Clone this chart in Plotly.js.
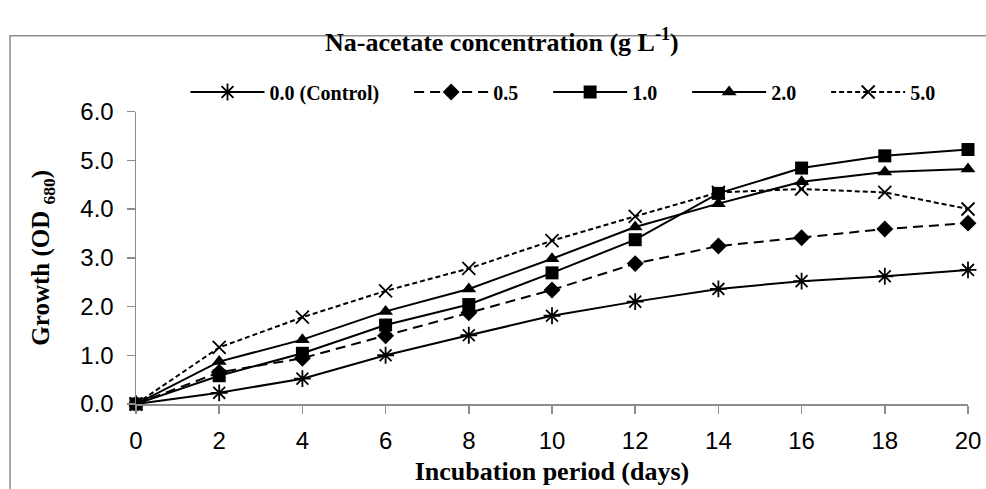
<!DOCTYPE html>
<html>
<head>
<meta charset="utf-8">
<script src="https://cdn.plot.ly/plotly-3.0.1.min.js"></script>
<style>
  html, body { margin: 0; padding: 0; background: #fff; }
  #chart { width: 986px; height: 489px; }
</style>
</head>
<body>
<div id="chart"></div>
<script>
// Incubation period (days)
const days = [0, 2, 4, 6, 8, 10, 12, 14, 16, 18, 20];

// Growth (OD680) for each Na-acetate concentration (g L-1)
const control = [0.00, 0.23, 0.52, 1.00, 1.41, 1.81, 2.10, 2.36, 2.52, 2.62, 2.75];
const conc05  = [0.00, 0.65, 0.94, 1.40, 1.87, 2.34, 2.88, 3.24, 3.41, 3.59, 3.71];
const conc10  = [0.00, 0.58, 1.04, 1.62, 2.04, 2.69, 3.37, 4.32, 4.84, 5.09, 5.22];
const conc20  = [0.00, 0.87, 1.32, 1.90, 2.36, 2.98, 3.63, 4.11, 4.56, 4.76, 4.82];
const conc50  = [0.00, 1.16, 1.78, 2.32, 2.78, 3.35, 3.85, 4.34, 4.41, 4.34, 4.00];

const seriesNames = ['0.0 (Control)', '0.5', '1.0', '2.0', '5.0'];
const xTickVals = [0, 2, 4, 6, 8, 10, 12, 14, 16, 18, 20];
const yTickVals = [0, 1, 2, 3, 4, 5, 6];

const serif = 'Liberation Serif, Times New Roman, serif';
const sans = 'Liberation Sans, Arial, sans-serif';
const pad = '\u00a0\u00a0\u00a0\u00a0\u00a0';

function trace(y, name, symbol, size, dash, openSym) {
  return {
    x: days, y: y, name: name, type: 'scatter', mode: 'lines+markers',
    cliponaxis: false,
    line: { color: '#000', width: 2, dash: dash },
    marker: {
      symbol: symbol, size: size, color: '#000',
      line: { color: '#000', width: openSym ? 1.8 : 0 }
    }
  };
}

const data = [
  trace(control, seriesNames[0] + pad, 'asterisk-open', 14, 'solid', true),
  trace(conc05,  seriesNames[1] + pad, 'diamond', 13, '10px,6px', false),
  trace(conc10,  seriesNames[2] + pad, 'square', 13, 'solid', false),
  trace(conc20,  seriesNames[3] + pad, 'triangle-up', 13, 'solid', false),
  trace(conc50,  seriesNames[4], 'x-thin-open', 13, '5px,3px', true)
];

const layout = {
  width: 986, height: 489,
  margin: { l: 136, r: 18, t: 95, b: 85 },
  paper_bgcolor: '#fff', plot_bgcolor: '#fff',
  showlegend: true,
  title: {
    text: 'Na-acetate concentration (g L<sup>-1</sup>)',
    font: { family: serif, size: 26, color: '#000', weight: 'bold' },
    x: 0.509, xref: 'container', xanchor: 'center',
    y: 1 - 42 / 489, yref: 'container', yanchor: 'middle'
  },
  legend: {
    orientation: 'h',
    x: 0.571, xref: 'container', xanchor: 'center',
    y: 1 - 92 / 489, yref: 'container', yanchor: 'middle',
    font: { family: serif, size: 20, color: '#000', weight: 'bold' },
    bgcolor: 'rgba(0,0,0,0)',
    itemwidth: 74,
    itemclick: false, itemdoubleclick: false
  },
  xaxis: {
    range: [0, 20], tickvals: xTickVals, ticktext: xTickVals.map(String),
    showgrid: false, zeroline: false,
    showline: true, linecolor: '#8c8c8c', linewidth: 1.5,
    ticks: 'outside', ticklen: 8, tickcolor: '#8c8c8c', tickwidth: 1.5,
    ticklabelstandoff: 7,
    tickfont: { family: sans, size: 24, color: '#000' },
    title: {
      text: 'Incubation period (days)',
      font: { family: serif, size: 26, color: '#000', weight: 'bold' },
      standoff: 8
    },
    fixedrange: true
  },
  yaxis: {
    range: [0, 6], tickvals: yTickVals, ticktext: yTickVals.map(v => v.toFixed(1)),
    showgrid: false, zeroline: false,
    showline: true, linecolor: '#8c8c8c', linewidth: 1.5,
    ticks: 'outside', ticklen: 8, tickcolor: '#8c8c8c', tickwidth: 1.5,
    ticklabelstandoff: 8,
    tickfont: { family: sans, size: 24, color: '#000' },
    title: {
      text: 'Growth (OD <sub>680</sub>)',
      font: { family: serif, size: 25, color: '#000', weight: 'bold' },
      standoff: 23
    },
    fixedrange: true
  },
  shapes: [{
    type: 'rect', xref: 'paper', yref: 'paper',
    x0: (10 - 136) / 832, x1: (995 - 136) / 832,
    y0: (404 - 500) / 309, y1: (404 - 15) / 309,
    line: { color: '#8c8c8c', width: 1.5 }, fillcolor: 'rgba(0,0,0,0)',
    layer: 'below'
  }]
};

Plotly.newPlot('chart', data, layout, { displayModeBar: false, staticPlot: true });
</script>
</body>
</html>
